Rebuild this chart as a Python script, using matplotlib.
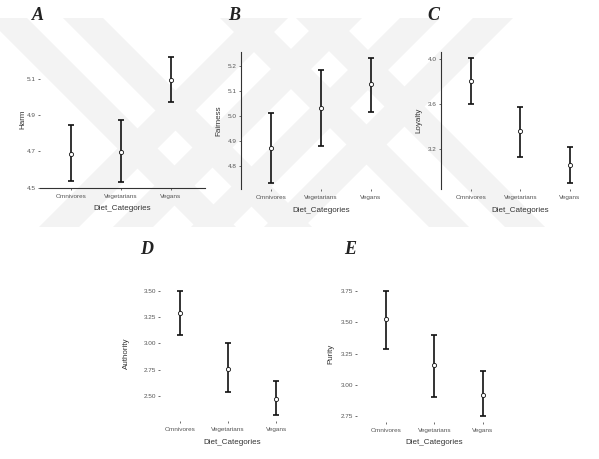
import matplotlib
matplotlib.use("Agg")
import matplotlib.pyplot as plt
from matplotlib.patches import Polygon

W, H = 599, 459

CATS = ["Omnivores", "Vegetarians", "Vegans"]

# means and error-bar ends
HARM_MEAN = [4.684, 4.695, 5.094]
HARM_LO = [4.537, 4.532, 4.974]
HARM_HI = [4.844, 4.872, 5.220]

FAIR_MEAN = [4.872, 5.032, 5.128]
FAIR_LO = [4.732, 4.880, 5.016]
FAIR_HI = [5.012, 5.184, 5.232]

LOY_MEAN = [3.804, 3.360, 3.058]
LOY_LO = [3.600, 3.129, 2.898]
LOY_HI = [4.009, 3.573, 3.218]

AUTH_MEAN = [3.290, 2.760, 2.470]
AUTH_LO = [3.077, 2.540, 2.317]
AUTH_HI = [3.500, 3.000, 2.640]

PUR_MEAN = [3.530, 3.160, 2.920]
PUR_LO = [3.290, 2.900, 2.750]
PUR_HI = [3.750, 3.400, 3.110]

HARM_TICKS = [4.5, 4.7, 4.9, 5.1]
FAIR_TICKS = [4.8, 4.9, 5.0, 5.1, 5.2]
LOY_TICKS = [3.2, 3.6, 4.0]
AUTH_TICKS = [2.50, 2.75, 3.00, 3.25, 3.50]
PUR_TICKS = [2.75, 3.00, 3.25, 3.50, 3.75]

# watermark band centres (x at top edge / bottom edge of the band box)
WM_TOP, WM_BOT = 18, 227
WM_BACK = [(7, 216), (83, 292), (240, 449), (316, 525)]   # "\" bands
WM_FWD = [(268, 59), (342, 133), (420, 211), (493, 284)]  # "/" bands
WM_HALF = 20

SANS = "Liberation Sans"


def box(l, t, r, b):
    return [l / W, 1 - b / H, (r - l) / W, (b - t) / H]


fig = plt.figure(figsize=(W / 100, H / 100), dpi=100)
fig.patch.set_facecolor("white")

# faint watermark behind everything
bg = fig.add_axes([0, 0, 1, 1], zorder=-5)
bg.set_xlim(0, W)
bg.set_ylim(H, 0)
bg.axis("off")
for xt, xb in WM_BACK + WM_FWD:
    bg.add_patch(Polygon([(xt - WM_HALF, WM_TOP), (xt + WM_HALF, WM_TOP),
                          (xb + WM_HALF, WM_BOT), (xb - WM_HALF, WM_BOT)],
                         closed=True, facecolor="#f3f3f3", edgecolor="none"))


def panel(rect_px, xlim, mean, lo, hi, ticks, fmt, ylabel, letter, letter_xy,
          spine, ylab_off):
    l, t, r, b = rect_px
    ax = fig.add_axes(box(l, t, r, b))
    ax.set_facecolor("none")
    x = list(range(1, len(CATS) + 1))
    yerr = [[m - a for m, a in zip(mean, lo)], [c - m for m, c in zip(mean, hi)]]
    ax.errorbar(x, mean, yerr=yerr, fmt="none", ecolor="#111111",
                elinewidth=1.2, capsize=2, capthick=1.2, zorder=2)
    ax.plot(x, mean, "o", ms=3, mfc="white", mec="#111111", mew=0.6, zorder=3)

    span = max(hi) - min(lo)
    ax.set_ylim(min(lo) - 0.05 * span, max(hi) + 0.05 * span)
    ax.set_xlim(*xlim)
    ax.set_xticks(x)
    ax.set_xticklabels(CATS)
    ax.set_yticks(ticks)
    ax.set_yticklabels([fmt.format(v) for v in ticks])
    ax.tick_params(axis="both", length=1.5, width=0.6, color="#555555",
                   labelsize=4.6, labelcolor="#555555")
    ax.tick_params(axis="x", pad=3)
    ax.tick_params(axis="y", pad=1.5)
    for lab in ax.get_xticklabels() + ax.get_yticklabels():
        lab.set_family(SANS)

    for side in ["top", "right", "left", "bottom"]:
        ax.spines[side].set_visible(side == spine)
        ax.spines[side].set_color("#333333")
        ax.spines[side].set_linewidth(0.8)

    ax.set_xlabel("Diet_Categories", fontsize=5.8, color="#333333", family=SANS)
    ax.xaxis.set_label_coords(0.5, -21 / (b - t))
    ax.xaxis.label.set_va("center")
    ax.set_ylabel(ylabel, fontsize=5.8, color="#333333", family=SANS)
    ax.yaxis.set_label_coords(-ylab_off / (r - l), 0.5)
    ax.yaxis.label.set_va("center")

    fig.text(letter_xy[0] / W, 1 - letter_xy[1] / H, letter, ha="center",
             va="center", fontsize=13, fontweight="bold", fontstyle="italic",
             family="Liberation Serif", color="#222222")
    return ax


panel((40, 51, 205, 188), (0.38, 3.68), HARM_MEAN, HARM_LO, HARM_HI,
      HARM_TICKS, "{:.1f}", "Harm", "A", (38, 15), "bottom", 17)
panel((241, 52, 401, 189), (0.4, 3.6), FAIR_MEAN, FAIR_LO, FAIR_HI,
      FAIR_TICKS, "{:.1f}", "Fairness", "B", (234, 15), "left", 22)
panel((441, 52, 599, 189), (0.394, 3.59), LOY_MEAN, LOY_LO, LOY_HI,
      LOY_TICKS, "{:.1f}", "Loyalty", "C", (433, 15), "left", 22)
panel((160, 285, 305, 421), (0.583, 3.6), AUTH_MEAN, AUTH_LO, AUTH_HI,
      AUTH_TICKS, "{:.2f}", "Authority", "D", (147, 250), None, 34)
panel((357, 285, 512, 422), (0.4, 3.6), PUR_MEAN, PUR_LO, PUR_HI,
      PUR_TICKS, "{:.2f}", "Purity", "E", (350, 250), None, 26)

fig.savefig("out.png", dpi=100)
